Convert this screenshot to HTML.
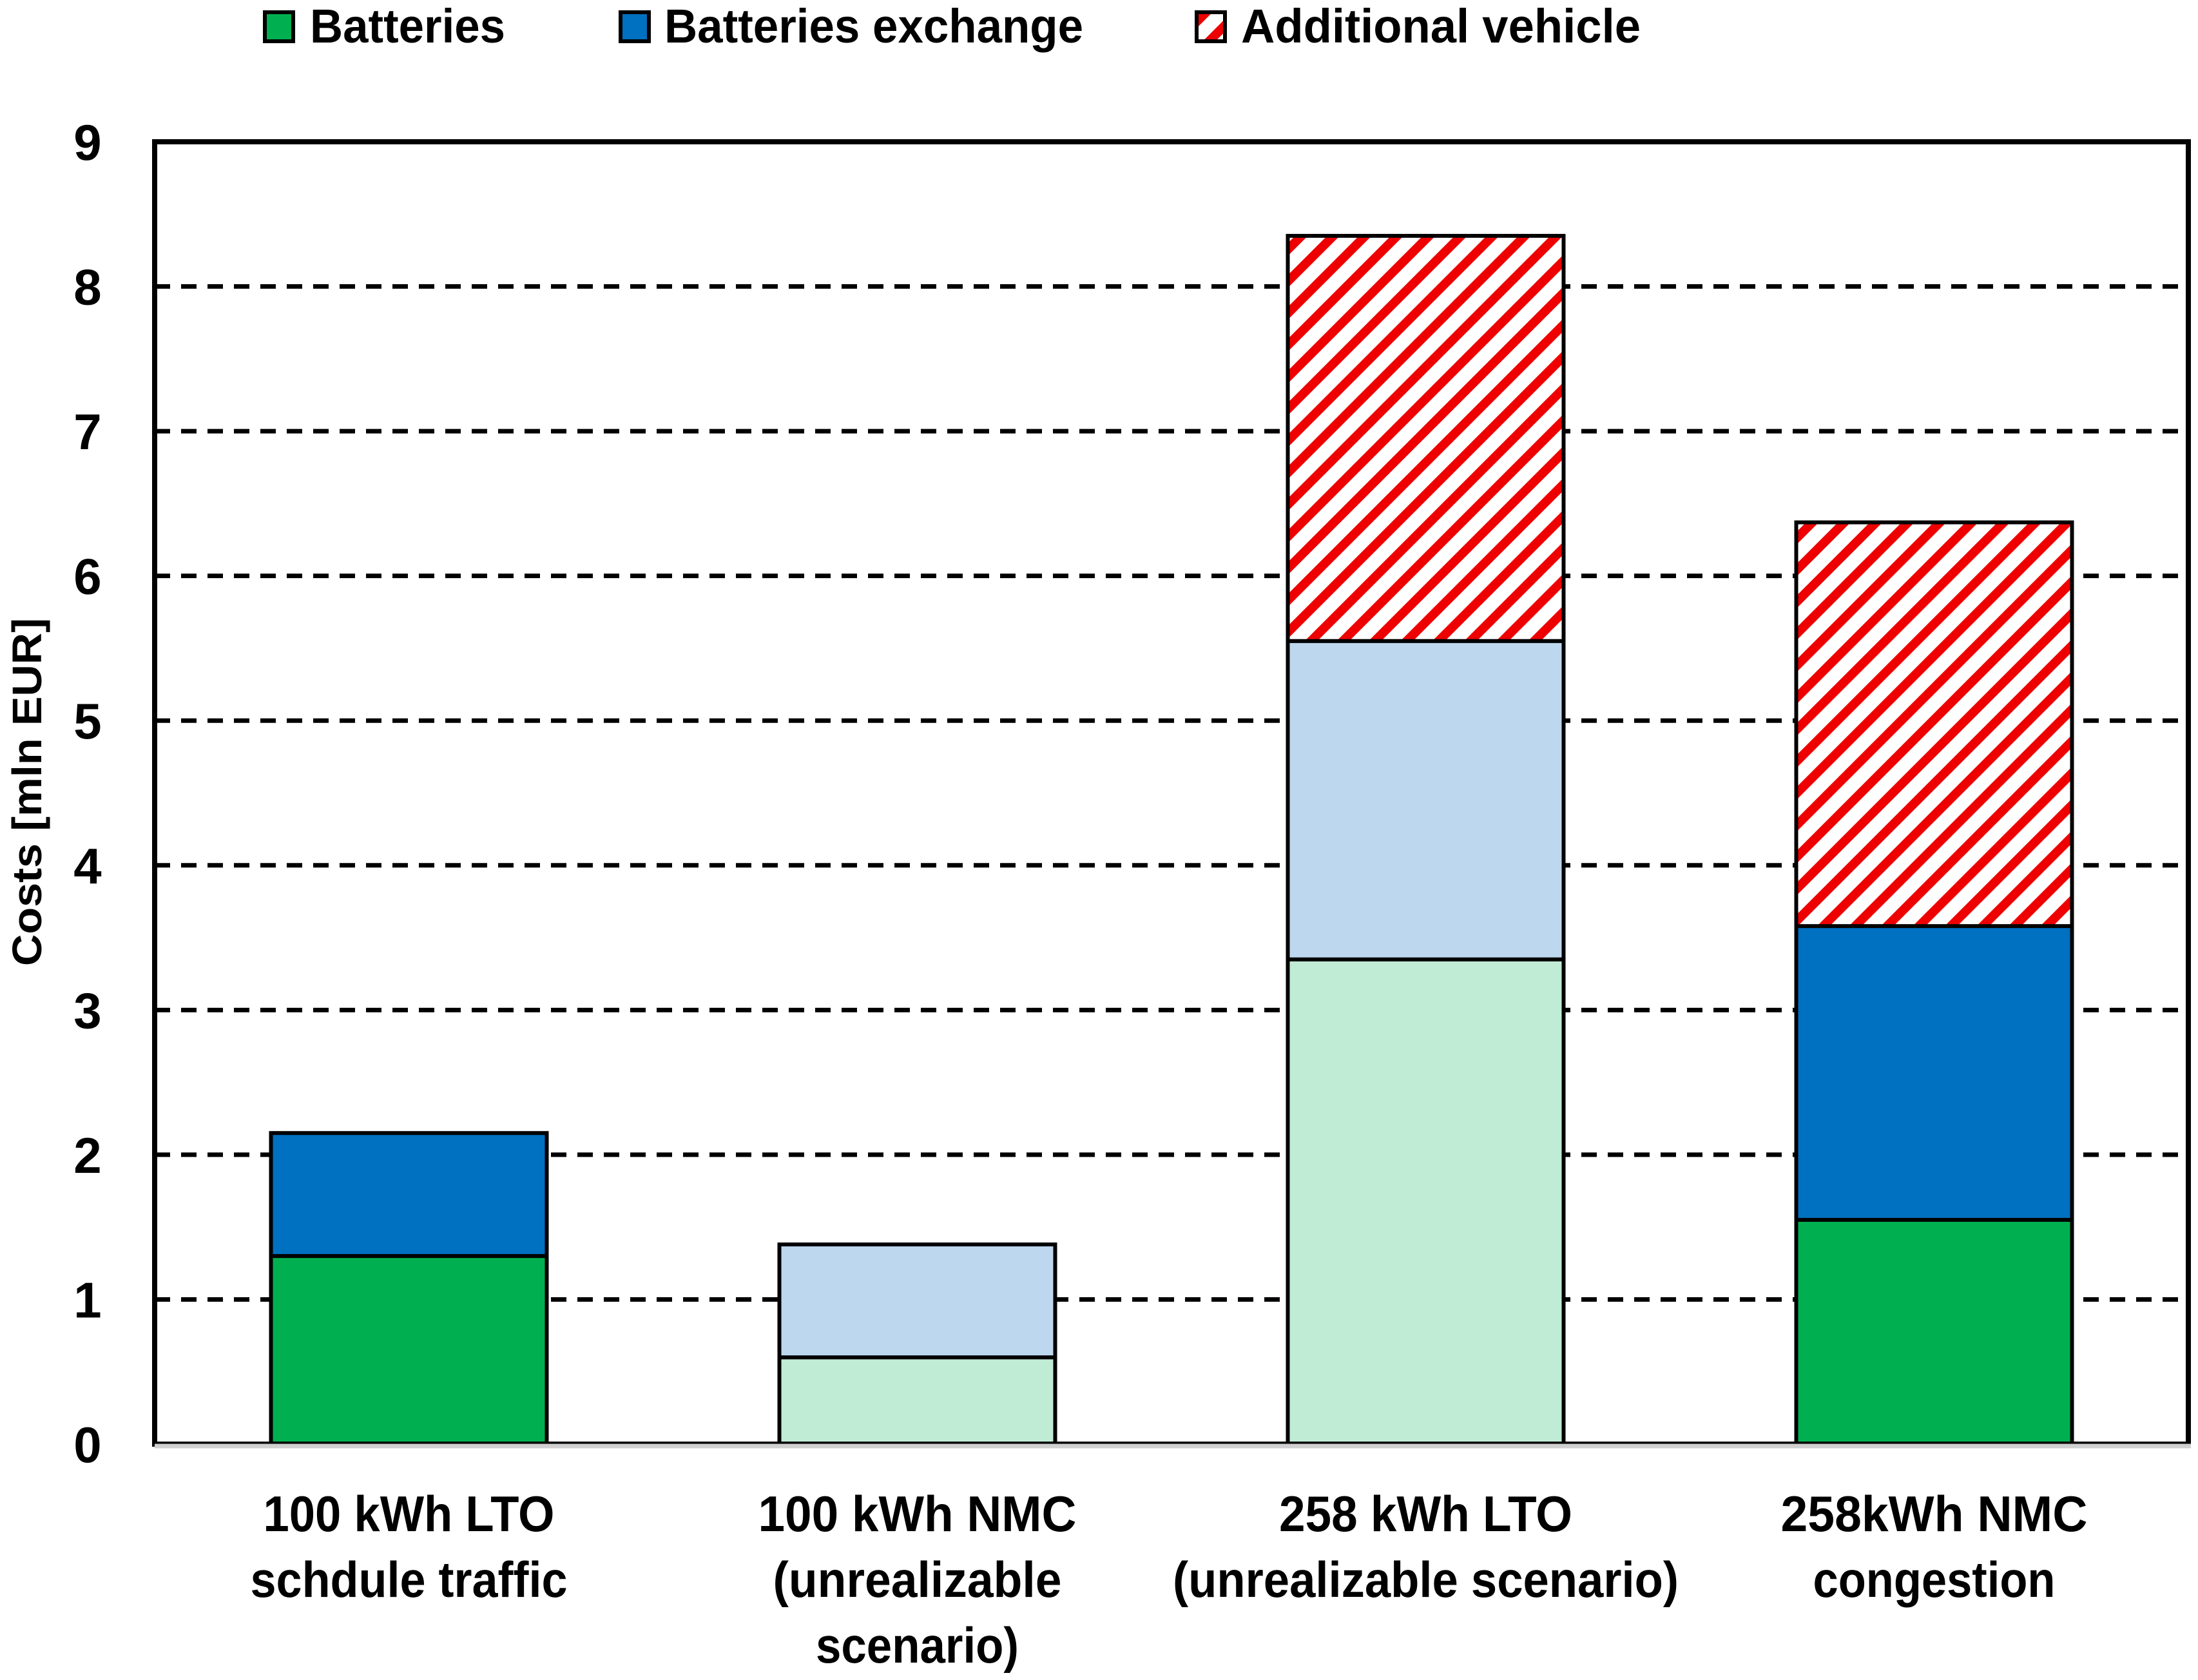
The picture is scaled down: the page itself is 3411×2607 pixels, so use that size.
<!DOCTYPE html>
<html><head><meta charset="utf-8"><style>
html,body{margin:0;padding:0;background:#fff;}
svg text{font-family:"Liberation Sans",sans-serif;font-weight:bold;fill:#000;}
</style></head><body>
<svg id="chart" width="3411" height="2602" viewBox="0 0 3411 2602" xmlns="http://www.w3.org/2000/svg">
<defs>
<pattern id="hatch" patternUnits="userSpaceOnUse" width="35" height="35" patternTransform="rotate(45)">
<rect x="0" y="0" width="35" height="35" fill="#fff"/>
<rect x="0" y="0" width="14" height="35" fill="#e00"/>
</pattern>
</defs>
<g id="grid"></g>
<g id="bars"></g>
<rect x="240" y="220" width="3156" height="2021" fill="none" stroke="#000" stroke-width="8"/>
<line x1="240" y1="2244" x2="3400" y2="2244" stroke="#d0d0d0" stroke-width="7"/>
<g id="yticks"></g>
<g id="xlabels"></g>
<text transform="translate(64,1229) rotate(-90)" text-anchor="middle" font-size="64" textLength="540" lengthAdjust="spacingAndGlyphs">Costs [mln EUR]</text>
<g>
<g>
<rect x="411" y="19" width="44" height="45" fill="#00b050" stroke="#000" stroke-width="6"/>
<text x="481" y="66" font-size="74" textLength="303" lengthAdjust="spacingAndGlyphs">Batteries</text>
</g>
<g>
<rect x="963" y="19" width="44" height="45" fill="#0070c0" stroke="#000" stroke-width="6"/>
<text x="1031" y="66" font-size="74" textLength="650" lengthAdjust="spacingAndGlyphs">Batteries exchange</text>
</g>
<g>
<rect x="1857" y="19" width="44" height="45" fill="url(#hatch)" stroke="#000" stroke-width="6"/>
<text x="1926" y="66" font-size="74" textLength="620" lengthAdjust="spacingAndGlyphs">Additional vehicle</text>
</g>
</g>
</svg>
<script>
const categories = [
  ["100 kWh LTO", "schdule traffic"],
  ["100 kWh NMC", "(unrealizable", "scenario)"],
  ["258 kWh LTO", "(unrealizable scenario)"],
  ["258kWh NMC", "congestion"]
];
const batteries = [1.3, 0.6, 3.35, 1.55];
const batteriesExchange = [0.85, 0.78, 2.2, 2.03];
const additionalVehicle = [0, 0, 2.8, 2.79];
const unrealizable = [false, true, true, false];
const yTicks = [0,1,2,3,4,5,6,7,8,9];
const labelWidths = [[452,492],[494,448,315],[455,785],[476,376]];

const NS = "http://www.w3.org/2000/svg";
const plotL = 240, plotR = 3396, plotT = 220, plotB = 2241, yMax = 9;
const y = v => plotB - (v / yMax) * (plotB - plotT);
const band = (plotR - plotL) / categories.length;
const xc = i => plotL + band * (i + 0.5);
const barW = 428;

function mk(tag, attrs, parent) {
  const el = document.createElementNS(NS, tag);
  for (const k in attrs) el.setAttribute(k, attrs[k]);
  parent.appendChild(el);
  return el;
}

const grid = document.getElementById('grid');
yTicks.forEach(t => {
  if (t === 0 || t === yMax) return;
  const l = mk('line', {x1: plotL, x2: plotR, y1: y(t), y2: y(t), stroke: '#000', 'stroke-width': 7, 'stroke-dasharray': '24 17'}, grid);
  
  
});

const yt = document.getElementById('yticks');
yTicks.forEach(t => {
  const tx = mk('text', {x: 136, y: y(t) + 28, 'text-anchor': 'middle', 'font-size': 78}, yt);
  tx.textContent = t;
  
  
});

const bars = document.getElementById('bars');
categories.forEach((c, i) => {
  const x0 = xc(i) - barW / 2;
  const light = unrealizable[i];
  const segs = [
    {v: batteries[i], fill: light ? '#c0ebd5' : '#00b050', name: 'batteries'},
    {v: batteriesExchange[i], fill: light ? '#bdd7ee' : '#0070c0', name: 'batteries-exchange'},
    {v: additionalVehicle[i], fill: 'url(#hatch)', name: 'additional-vehicle'}
  ];
  let base = 0;
  segs.forEach(s => {
    if (s.v <= 0) return;
    const top = base + s.v;
    const r = mk('rect', {x: x0, y: y(top), width: barW, height: y(base) - y(top), fill: s.fill, stroke: '#000', 'stroke-width': 6}, bars);
    
    
    base = top;
  });
});

const xl = document.getElementById('xlabels');
categories.forEach((lines, i) => {
  lines.forEach((ln, j) => {
    const tx = mk('text', {x: xc(i), y: 2376 + j * 102, 'text-anchor': 'middle', 'font-size': 78, textLength: labelWidths[i][j], lengthAdjust: 'spacingAndGlyphs'}, xl);
    tx.textContent = ln;
    
    
  });
});
</script>
</body></html>
